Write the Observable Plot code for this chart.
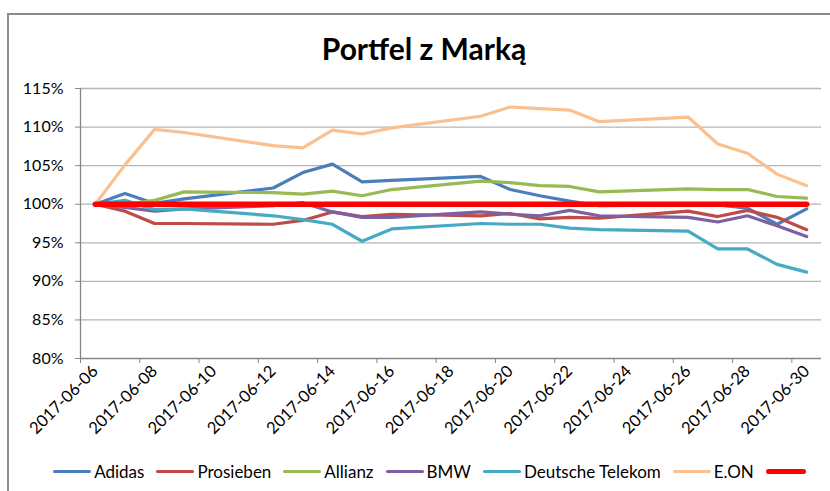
<!DOCTYPE html>
<html><head><meta charset="utf-8">
<script src="https://cdn.jsdelivr.net/npm/d3@7"></script>
<script src="https://cdn.jsdelivr.net/npm/@observablehq/plot@0.6"></script>
<style>
body{margin:0;background:#fff;}
#wrap{position:relative;width:830px;height:491px;overflow:hidden;font-family:Lato,sans-serif;background:#fff;}
#border{position:absolute;left:7px;top:13px;width:900px;height:600px;border-left:2px solid #8c8c8c;border-top:2px solid #8c8c8c;}
#title{position:absolute;left:0;width:848px;top:28px;text-align:center;font-weight:bold;font-size:30px;color:#000;line-height:40px;}
#chart{position:absolute;left:0;top:0;}
#legend{position:absolute;left:0;width:862px;top:460px;height:22px;display:flex;justify-content:center;align-items:center;font-size:17px;color:#000;}
.item{display:flex;align-items:center;margin:0 6px;}
.sw{display:inline-block;width:38px;height:3px;margin-right:3px;border-radius:2px;}
</style></head>
<body><div id="wrap"><div id="border"></div><div id="title">Portfel z Marką</div><div id="chart"></div><div id="legend"></div></div>
<script>
const dates = ["2017-06-06","2017-06-07","2017-06-08","2017-06-09","2017-06-12","2017-06-13","2017-06-14","2017-06-15","2017-06-16","2017-06-19","2017-06-20","2017-06-21","2017-06-22","2017-06-23","2017-06-26","2017-06-27","2017-06-28","2017-06-29","2017-06-30"];
const adidas    = [100, 101.4, 100.1, 100.7, 102.1, 104.1, 105.2, 102.9, 103.1, 103.6, 101.9, 101.1, 100.4, 99.8, 99.9, 99.9, 99.5, 97.4, 99.4];
const prosieben = [100, 99.1, 97.5, 97.5, 97.4, 97.9, 99.0, 98.4, 98.7, 98.5, 98.8, 98.1, 98.3, 98.2, 99.1, 98.4, 99.2, 98.3, 96.7];
const allianz   = [100, 100.0, 100.5, 101.6, 101.5, 101.3, 101.7, 101.1, 101.9, 103.0, 102.8, 102.4, 102.3, 101.6, 102.0, 101.9, 101.9, 101.0, 100.8];
const bmw       = [100, 99.6, 99.1, 99.4, 99.8, 100.2, 99.0, 98.3, 98.3, 99.0, 98.7, 98.5, 99.2, 98.5, 98.3, 97.7, 98.5, 97.2, 95.8];
const telekom   = [100, 100.5, 99.3, 99.4, 98.5, 98.0, 97.4, 95.2, 96.8, 97.5, 97.4, 97.4, 96.9, 96.7, 96.5, 94.2, 94.2, 92.2, 91.2];
const eon       = [100, 105.1, 109.7, 109.3, 107.6, 107.3, 109.6, 109.1, 109.9, 111.4, 112.6, 112.4, 112.2, 110.7, 111.3, 107.8, 106.6, 103.9, 102.4];
const benchmark = [100, 100, 100, 100, 100, 100, 100, 100, 100, 100, 100, 100, 100, 100, 100, 100, 100, 100, 100];

const seriesNames = ["Adidas", "Prosieben", "Allianz", "BMW", "Deutsche Telekom", "E.ON"];
const seriesValues = [adidas, prosieben, allianz, bmw, telekom, eon];
const seriesColors = ["#4A7EBB", "#BE4B48", "#98B954", "#7D60A0", "#46AAC5", "#FAC090"];
const benchColor = "#FF0000";

const yTicks = [80, 85, 90, 95, 100, 105, 110, 115];
const tickLabels = ["2017-06-06","2017-06-08","2017-06-10","2017-06-12","2017-06-14","2017-06-16","2017-06-18","2017-06-20","2017-06-22","2017-06-24","2017-06-26","2017-06-28","2017-06-30"];
const axisStart = "2017-06-06", axisEnd = "2017-07-01";

const noon = s => new Date(s + "T12:00:00Z");
const midnight = s => new Date(s + "T00:00:00Z");

const rows = [];
seriesNames.forEach((name, k) => dates.forEach((d, i) => rows.push({series: name, date: noon(d), value: seriesValues[k][i]})));
const benchRows = dates.map((d, i) => ({date: noon(d), value: benchmark[i]}));

const plot = Plot.plot({
  width: 830, height: 460,
  marginLeft: 80, marginRight: 9, marginTop: 88, marginBottom: 102,
  style: {fontFamily: "Lato, sans-serif", fontSize: "16px", color: "#000", background: "transparent", overflow: "visible"},
  x: {type: "utc", domain: [midnight(axisStart), midnight(axisEnd)], label: null},
  y: {domain: [yTicks[0], yTicks[yTicks.length - 1]], label: null},
  color: {domain: seriesNames, range: seriesColors},
  marks: [
    Plot.gridY(yTicks.slice(1), {stroke: "#b5b5b5", strokeOpacity: 1, strokeWidth: 1.3}),
    Plot.ruleY([yTicks[0]], {stroke: "#868686", strokeWidth: 1.3}),
    Plot.ruleX([midnight(axisStart)], {stroke: "#868686", strokeWidth: 1.3}),
    Plot.axisY(yTicks, {tickSize: 5, tickPadding: 12, tickFormat: d => d + "%", stroke: "#868686", fontSize: 16}),
    Plot.axisX(tickLabels.map(midnight), {tickSize: 5, tickFormat: () => "", stroke: "#868686"}),
    Plot.axisX(tickLabels.map(noon), {tickSize: 0, tickRotate: -45, tickPadding: 10, tickFormat: d3.utcFormat("%Y-%m-%d"), fontSize: 16.5}),
    Plot.line(rows, {x: "date", y: "value", z: "series", stroke: "series", strokeWidth: 3.2, strokeLinejoin: "round", strokeLinecap: "round"}),
    Plot.line(benchRows, {x: "date", y: "value", stroke: benchColor, strokeWidth: 5.5, strokeLinecap: "round"})
  ]
});
document.getElementById("chart").appendChild(plot);

const legend = document.getElementById("legend");
seriesNames.concat([""]).forEach((name, k) => {
  const item = document.createElement("div");
  item.className = "item";
  const sw = document.createElement("span");
  sw.className = "sw";
  sw.style.background = k < seriesNames.length ? seriesColors[k] : benchColor;
  if (k === seriesNames.length) { sw.style.height = "5px"; sw.style.width = "40px"; sw.style.borderRadius = "3px"; }
  item.appendChild(sw);
  if (name) { const t = document.createElement("span"); t.textContent = name; item.appendChild(t); }
  legend.appendChild(item);
});
</script></body></html>
